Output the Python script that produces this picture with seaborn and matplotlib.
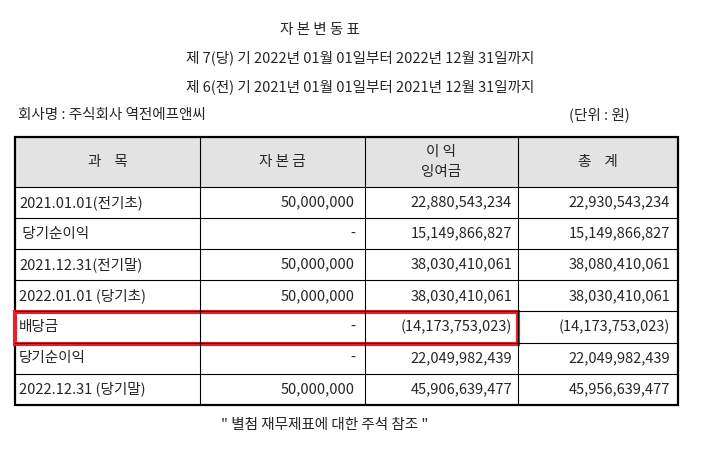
import matplotlib
matplotlib.use("Agg")
import matplotlib.pyplot as plt
import seaborn as sns
from matplotlib.patches import Rectangle

sns.set_theme(style="white", rc={"font.family": "Noto Sans CJK KR"})

title = "자 본 변 동 표"
period_cur = "제 7(당) 기 2022년 01월 01일부터 2022년 12월 31일까지"
period_prev = "제 6(전) 기 2021년 01월 01일부터 2021년 12월 31일까지"
company = "회사명 : 주식회사 역전에프앤씨"
unit = "(단위 : 원)"
headers = ["과    목", "자 본 금", "이 익\n잉여금", "총    계"]
items = ["2021.01.01(전기초)", " 당기순이익", "2021.12.31(전기말)", "2022.01.01 (당기초)",
         "배당금", "당기순이익", "2022.12.31 (당기말)"]
capital = [50000000, None, 50000000, 50000000, None, None, 50000000]
retained = [22880543234, 15149866827, 38030410061, 38030410061, -14173753023, 22049982439, 45906639477]
total = [22930543234, 15149866827, 38080410061, 38030410061, -14173753023, 22049982439, 45956639477]
highlight_row = 4
footer = "\" 별첨 재무제표에 대한 주석 참조 \""

def fmt(v):
    if v is None:
        return "-"
    if v < 0:
        return "({:,})".format(-v)
    return "{:,}".format(v)

fig = plt.figure(figsize=(7.27, 4.61), dpi=100)
ax = fig.add_axes([0, 0, 1, 1])
ax.set_xlim(0, 727); ax.set_ylim(461, 0); ax.axis("off")

fs = 10.5
ax.text(320, 30, title, ha="center", va="center", fontsize=fs)
ax.text(360, 58, period_cur, ha="center", va="center", fontsize=fs)
ax.text(360, 87, period_prev, ha="center", va="center", fontsize=fs)
ax.text(18, 115, company, ha="left", va="center", fontsize=fs)
ax.text(630, 115, unit, ha="right", va="center", fontsize=fs)

cols = [15, 200, 365, 518, 678]
top, hb, rh = 137, 187, 31.1
nrows = len(items)
bottom = hb + rh * nrows

ax.add_patch(Rectangle((cols[0], top), cols[-1] - cols[0], hb - top, facecolor="#e3e3e3", edgecolor="none"))
for i, h in enumerate(headers):
    ax.text((cols[i] + cols[i + 1]) / 2, (top + hb) / 2, h, ha="center", va="center", fontsize=fs, linespacing=1.5)

for r in range(nrows):
    yc = hb + rh * (r + 0.5)
    ax.text(cols[0] + 4, yc, items[r], ha="left", va="center", fontsize=fs)
    ax.text(cols[2] - 10, yc, fmt(capital[r]), ha="right", va="center", fontsize=fs)
    ax.text(cols[3] - 6, yc, fmt(retained[r]), ha="right", va="center", fontsize=fs)
    ax.text(cols[4] - 8, yc, fmt(total[r]), ha="right", va="center", fontsize=fs)

for r in range(nrows):
    y = hb + rh * r
    ax.plot([cols[0], cols[-1]], [y, y], color="black", lw=0.8)
for x in cols[1:-1]:
    ax.plot([x, x], [top, bottom], color="black", lw=0.8)
ax.add_patch(Rectangle((cols[0], top), cols[-1] - cols[0], bottom - top, fill=False, edgecolor="black", lw=1.6))

y0 = hb + rh * highlight_row
ax.add_patch(Rectangle((cols[0], y0 + 1), cols[3] - cols[0], rh, fill=False, edgecolor="#e8202a", lw=3))

ax.text(325, 425, footer, ha="center", va="center", fontsize=fs)

fig.savefig("out.png", dpi=100)
